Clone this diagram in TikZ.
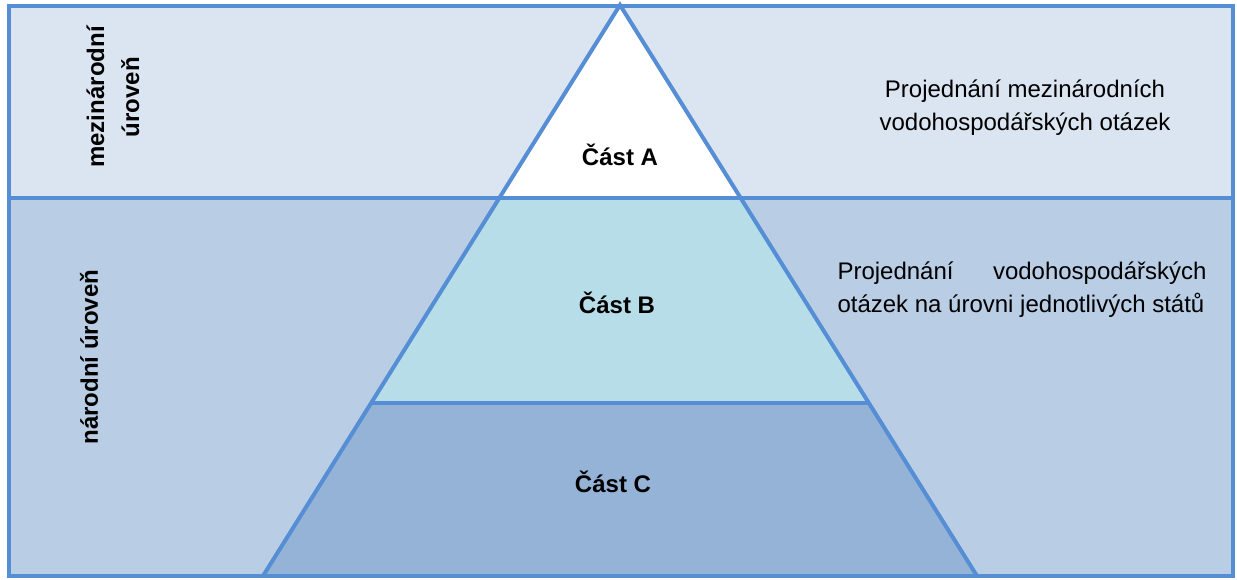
\documentclass[tikz,border=0pt]{standalone}
\usepackage{fontspec}
\setmainfont{Liberation Sans}
\definecolor{bandtop}{RGB}{219,229,241}
\definecolor{bandlow}{RGB}{185,205,229}
\definecolor{edge}{RGB}{85,142,213}
\definecolor{partBfill}{RGB}{183,222,232}
\definecolor{partCfill}{RGB}{149,179,215}
\tikzset{
  edgeline/.style={draw=edge, line width=4pt, line join=miter},
  partlabel/.style={font=\fontsize{24}{30}\selectfont\bfseries, inner sep=0pt},
  sidelabel/.style={font=\fontsize{24}{35}\selectfont\bfseries, align=center, rotate=90, inner sep=0pt},
  desc/.style={font=\fontsize{24}{33}\selectfont, inner sep=0pt}
}
\begin{document}
\begin{tikzpicture}[x=1pt,y=-1pt]
\useasboundingbox (0,0) rectangle (1237,579);
% bands
\fill[bandtop] (9,5.5) rectangle (1233,198);
\fill[bandlow] (9,198) rectangle (1233,576);
% pyramid parts
\fill[white] (620,5) -- (740.7,198) -- (499.3,198) -- cycle;
\fill[partBfill] (499.3,198) -- (740.7,198) -- (868.8,403) -- (371.2,403) -- cycle;
\fill[partCfill] (371.2,403) -- (868.8,403) -- (977,576) -- (263,576) -- cycle;
% lines
\draw[edgeline] (9,5.5) rectangle (1233,576);
\draw[edgeline] (9,198) -- (1233,198);
\draw[edgeline] (371.2,403) -- (868.8,403);
\draw[edgeline] (263,576) -- (620,5) -- (977,576);
% labels
\node[partlabel] (pA) at (620,155) {Část A};
\node[partlabel] (pB) at (617,303) {Část B};
\node[partlabel] (pC) at (613,482) {Část C};
\node[sidelabel] (lintl) at (113,97) {mezinárodní\\úroveň};
\node[sidelabel] (lnatl) at (89,357) {národní úroveň};
\node[desc, align=center] (dintl) at (1025,108) {Projednání mezinárodních\\vodohospodářských otázek};
\node[desc, align=left] (dnatl) at (1022,290) {\makebox[369pt][s]{Projednání\hfill vodohospodářských}\\otázek na úrovni jednotlivých států};
\end{tikzpicture}
\end{document}
